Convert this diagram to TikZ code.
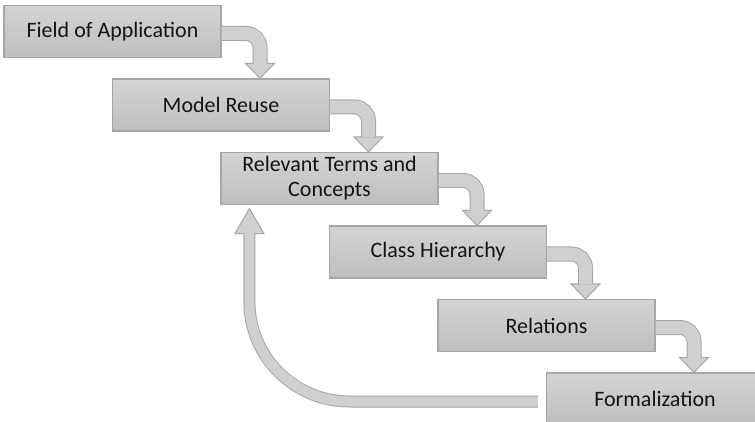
\documentclass[tikz,border=0pt]{standalone}
\usepackage{fontspec}
\setmainfont{Carlito}
\usetikzlibrary{calc}
\definecolor{boxtop}{HTML}{D4D4D4}
\definecolor{boxbot}{HTML}{BEBEBE}
\definecolor{edgegray}{HTML}{A6A6A6}
\definecolor{arrowgray}{HTML}{D0D0D0}
\definecolor{textgray}{HTML}{141414}
\begin{document}
\begin{tikzpicture}[x=1pt, y=1pt,
	stepbox/.style={draw=edgegray, line width=1.2pt, top color=boxtop, bottom color=boxbot,
		minimum width=217pt, minimum height=52pt, inner sep=0pt, align=center,
		text=textgray, font=\fontsize{22}{25}\selectfont},
	flowshaft/.style={draw=edgegray, line width=1pt, double=arrowgray, double distance=13pt, rounded corners=14pt},
	backshaft/.style={draw=edgegray, line width=1pt, double=arrowgray, double distance=10pt, rounded corners=100pt},
	flowhead/.style={draw=edgegray, fill=arrowgray, line width=1pt, line join=miter}]
	\useasboundingbox (0,0) rectangle (755,-422);
	\fill[white] (0,0) rectangle (755,-422);
	\clip (0,0) rectangle (755,-422);

	\node[stepbox] (field) at (112.5,-31.5) {Field of Application};
	\node[stepbox] (reuse) at (221,-105) {Model Reuse};
	\node[stepbox] (terms) at (329.5,-178.5) {Relevant Terms and\\Concepts};
	\node[stepbox] (class) at (438,-252) {Class Hierarchy};
	\node[stepbox] (rel) at (546.5,-325.5) {Relations};
	\node[stepbox] (form) at (655,-399) {Formalization};

	% forward steps
	\filldraw[flowhead] ($(reuse.north)+(39,0)$) -- ++(-14.5,15) -- ++(29,0) -- cycle;
	\draw[flowshaft] ($(field.east)+(0,-2)$) -| ($(reuse.north)+(39,14.5)$);
	\filldraw[flowhead] ($(terms.north)+(39,0)$) -- ++(-14.5,15) -- ++(29,0) -- cycle;
	\draw[flowshaft] ($(reuse.east)+(0,-2)$) -| ($(terms.north)+(39,14.5)$);
	\filldraw[flowhead] ($(class.north)+(39,0)$) -- ++(-14.5,15) -- ++(29,0) -- cycle;
	\draw[flowshaft] ($(terms.east)+(0,-2)$) -| ($(class.north)+(39,14.5)$);
	\filldraw[flowhead] ($(rel.north)+(39,0)$) -- ++(-14.5,15) -- ++(29,0) -- cycle;
	\draw[flowshaft] ($(class.east)+(0,-2)$) -| ($(rel.north)+(39,14.5)$);
	\filldraw[flowhead] ($(form.north)+(39,0)$) -- ++(-14.5,15) -- ++(29,0) -- cycle;
	\draw[flowshaft] ($(rel.east)+(0,-2)$) -| ($(form.north)+(39,14.5)$);

	% back to the terms
	\filldraw[flowhead] ($(terms.south west)+(29,-3.5)$) -- ++(-14.5,-25) -- ++(29,0) -- cycle;
	\draw[backshaft] ($(form.west)+(-8,-2.5)$) -| ($(terms.south west)+(29,-28)$);
\end{tikzpicture}
\end{document}
